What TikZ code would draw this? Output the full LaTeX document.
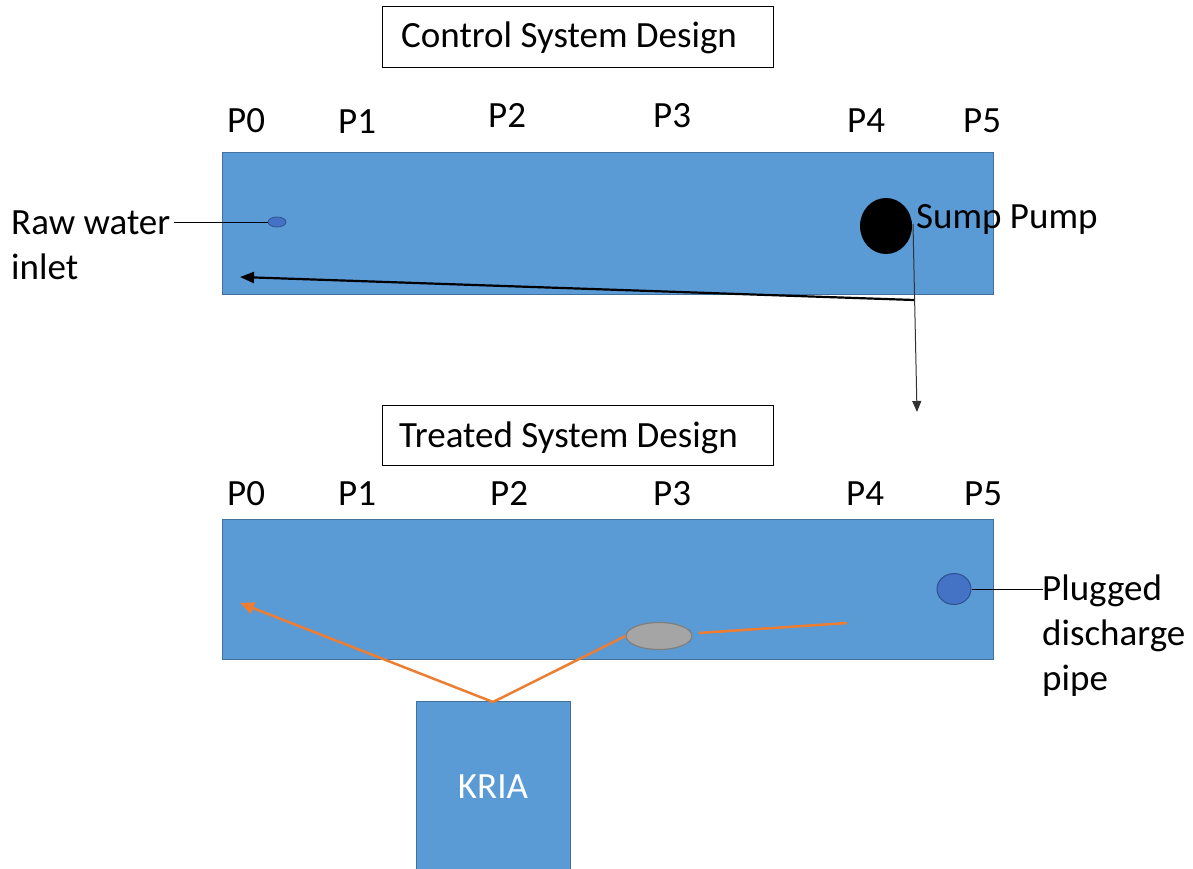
\documentclass[tikz,border=0pt]{standalone}
\usepackage{fontspec}
\setmainfont{Carlito}
\usetikzlibrary{arrows.meta,shapes.geometric}
\definecolor{tankblue}{HTML}{5B9BD5}
\definecolor{tankedge}{HTML}{41719C}
\definecolor{pipeblue}{HTML}{4472C4}
\definecolor{pipeedge}{HTML}{2F528F}
\definecolor{orangeline}{HTML}{ED7D31}
\definecolor{grayfill}{HTML}{A5A5A5}
\definecolor{grayedge}{HTML}{7F7F7F}
\tikzset{
  tank/.style={draw=tankedge, fill=tankblue, line width=1.2pt, inner sep=0pt, anchor=north west},
  titlebox/.style={draw=black, line width=1.3pt, inner sep=0pt, anchor=north west},
  lbl/.style={font=\fontsize{37}{45}\selectfont, inner sep=0pt, anchor=base west},
  oline/.style={draw=orangeline, line width=2.5pt},
}
\begin{document}
\begin{tikzpicture}[x=1pt,y=-1pt]
\useasboundingbox (0,0) rectangle (1193,869);
% titles
\node[titlebox, minimum width=391pt, minimum height=61pt] (t1) at (382,6) {};
\node[lbl] (t1t) at (401,48) {Control System Design};
\node[titlebox, minimum width=391pt, minimum height=60pt] (t2) at (382,405) {};
\node[lbl] (t2t) at (399,447) {Treated System Design};
% top tank
\node[tank, minimum width=771pt, minimum height=142pt] (tank1) at (222,152) {};
\foreach \n/\x/\y in {0/227/133,1/338/134,2/488/128,3/653/128,4/847/133,5/963/133}{
  \node[lbl] (a\n) at (\x,\y) {P\n};
}
\node[ellipse, draw=pipeedge, fill=pipeblue, minimum width=18pt, minimum height=10pt, inner sep=0pt, line width=0.8pt] (inlet) at (277,222) {};
\node[lbl] (rawtxt) at (11,234) {Raw water};
\node[lbl] (rawtxt2) at (11,279) {inlet};
\coordinate (rawend) at (174,222);
\draw[line width=0.8pt] (rawend) -- (inlet.west);
\node[ellipse, fill=black, minimum width=52pt, minimum height=56pt, inner sep=0pt] (pump) at (886,226) {};
\node[lbl] (pumptxt) at (916,228) {Sump Pump};
\coordinate (corner) at (914,300);
\coordinate (inarrow) at (240,277);
\coordinate (downend) at (917,412);
\draw[line width=2.2pt, -{Triangle[length=14pt,width=11pt]}] (corner) -- (inarrow);
\draw[line width=1pt, black!80, -{Triangle[length=11pt,width=9pt]}] (913,224) -- (downend);
% bottom tank
\node[tank, minimum width=771pt, minimum height=140pt] (tank2) at (222,519) {};
\foreach \n/\x in {0/227,1/338,2/490,3/653,4/846,5/964}{
  \node[lbl] (b\n) at (\x,505) {P\n};
}
\node[ellipse, draw=pipeedge, fill=pipeblue, minimum width=34pt, minimum height=31pt, inner sep=0pt, line width=1pt] (plug) at (954,589) {};
\node[lbl] (plugtxt) at (1042,600) {Plugged};
\node[lbl] (plugtxt2) at (1042,645) {discharge};
\node[lbl] (plugtxt3) at (1042,690) {pipe};
\coordinate (plugend) at (1043,589);
\draw[line width=0.8pt] (plug.east) -- (plugend);
\node[ellipse, draw=grayedge, fill=grayfill, minimum width=66pt, minimum height=27pt, inner sep=0pt, line width=1.2pt] (gray) at (659,636) {};
% KRIA
\node[draw=tankedge, fill=tankblue, line width=1.2pt, minimum width=154pt, minimum height=175pt, inner sep=0pt, anchor=north west] (kria) at (416,701) {};
\node[font=\fontsize{37}{45}\selectfont, text=white, inner sep=0pt, anchor=base] (kriat) at (493,798) {KRIA};
\coordinate (ktop) at (493,702);
\coordinate (tipL) at (240,603);
\coordinate (oend) at (847,623);
\draw[oline, -{Triangle[length=14pt,width=12pt]}] (ktop) -- (tipL);
\draw[oline] (ktop) -- (gray.west);
\draw[oline] (699,633) -- (oend);
\end{tikzpicture}
\end{document}
